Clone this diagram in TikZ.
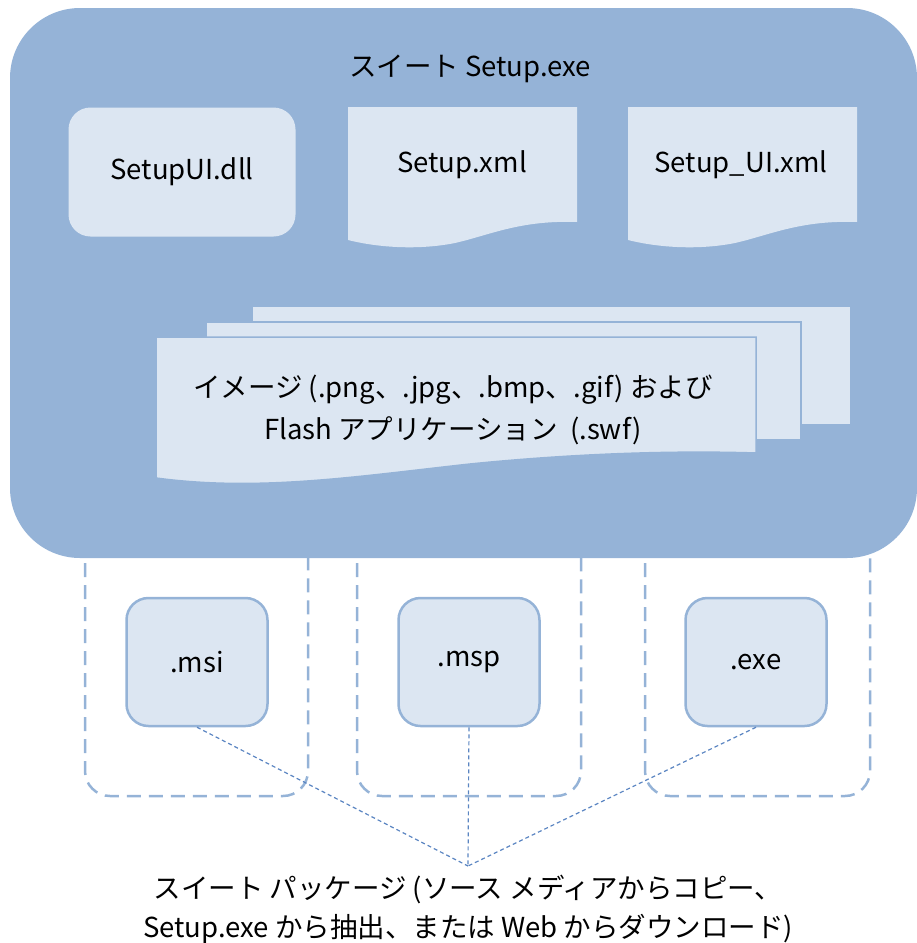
\documentclass[tikz,border=0pt]{standalone}
\usepackage{fontspec}
\setmainfont{Noto Sans CJK JP}
\definecolor{suiteblue}{HTML}{95B3D7}
\definecolor{partfill}{HTML}{DCE6F2}
\definecolor{linkblue}{HTML}{5B85C2}

\begin{document}
\begin{tikzpicture}[x=1pt, y=-1pt, font=\fontsize{27.5}{42}\selectfont,
  part/.style={fill=partfill},
  sheet/.style={fill=partfill, draw=suiteblue, line width=1.5pt},
  pkgbox/.style={draw=suiteblue, line width=2.5pt, fill=partfill,
                 rounded corners=22pt, minimum width=141pt, minimum height=128pt},
  kindbox/.style={draw=suiteblue, line width=2.5pt,
                  dash pattern=on 14pt off 8pt, rounded corners=25pt},
  link/.style={draw=linkblue, line width=1.2pt, dash pattern=on 4pt off 3pt}]
  \useasboundingbox (0,0) rectangle (917,943);

  % package kinds, partly behind the suite
  \draw[kindbox] (85,450) rectangle (308,796);
  \draw[kindbox] (357,450) rectangle (581,796);
  \draw[kindbox] (645,450) rectangle (870,796);

  % the suite
  \fill[suiteblue, rounded corners=70pt] (10,8) rectangle (917,558);
  \node (suite) at (470,69) {スイート Setup.exe};

  \node (dll) [part, rounded corners=22pt, minimum width=227pt,
               minimum height=129pt] at (182,172) {SetupUI.dll};

  \fill[part] (348,107) -- (577,107) -- (577,222)
    .. controls (520,220) and (490,235) .. (455,243)
    .. controls (420,250) and (380,248) .. (348,240) -- cycle;
  \node (xml) at (462,165) {Setup.xml};

  \fill[part] (628,107) -- (857,107) -- (857,222)
    .. controls (800,220) and (770,235) .. (735,243)
    .. controls (700,250) and (660,248) .. (628,240) -- cycle;
  \node (uixml) at (741,165) {Setup\_UI.xml};

  % stacked image sheets
  \draw[sheet] (252,306) rectangle (851,425);
  \draw[sheet] (206,322) rectangle (801,440);
  \draw[sheet] (156,337) -- (756,337) -- (756,453)
    .. controls (660,450) and (560,455) .. (470,464)
    .. controls (360,476) and (260,492) .. (156,478) -- cycle;
  \node (img) [align=center] at (453,410)
    {イメージ (.png、.jpg、.bmp、.gif) および\\Flash アプリケーション\ \ (.swf)};

  % packages
  \node (msi) [pkgbox] at (197,662) {.msi};
  \node (msp) [pkgbox] at (469,662) {.msp};
  \node (exe) [pkgbox] at (756,662) {.exe};

  \node (suitepkg) [anchor=north, align=center, inner sep=9pt,
                    font=\fontsize{27.5}{39}\selectfont] at (468,866)
    {スイート パッケージ (ソース メディアからコピー、\\Setup.exe から抽出、または Web からダウンロード)};

  \draw[link] (msi.south) -- (suitepkg.north);
  \draw[link] (msp.south) -- (suitepkg.north);
  \draw[link] (exe.south) -- (suitepkg.north);
\end{tikzpicture}
\end{document}
